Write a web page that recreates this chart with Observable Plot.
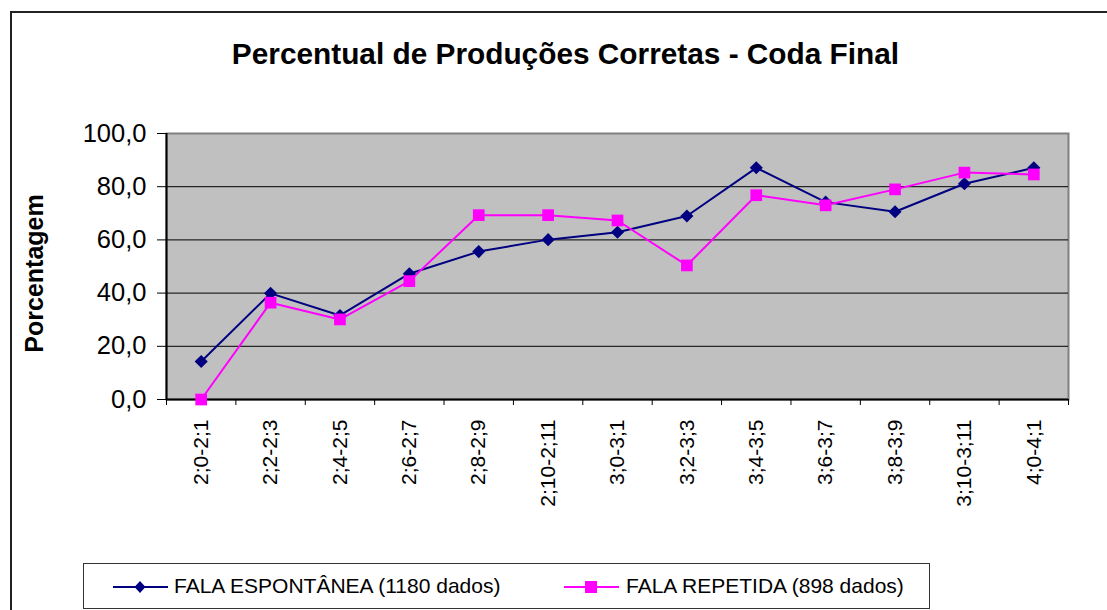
<!DOCTYPE html>
<html>
<head>
<meta charset="utf-8">
<script src="https://cdn.jsdelivr.net/npm/d3@7"></script>
<script src="https://cdn.jsdelivr.net/npm/@observablehq/plot@0.6"></script>
<style>
  html, body { margin: 0; padding: 0; background: #fff; overflow: hidden; }
  body { width: 1107px; height: 610px; position: relative; font-family: "Liberation Sans", Arial, sans-serif; }
  #frame { position: absolute; left: 10px; top: 11px; width: 1200px; height: 700px; border: 2px solid #222; box-sizing: border-box; }
  #chart { position: absolute; left: 0; top: 0; }
  #legend { position: absolute; left: 83px; top: 563px; width: 847px; height: 46px; border: 1.5px solid #333; box-sizing: border-box; background: #fff; }
  .lg-sw { position: absolute; }
  .lg-tx { position: absolute; font-size: 21px; line-height: 21px; color: #000; white-space: nowrap; }
</style>
</head>
<body>
<div id="frame"></div>
<div id="chart"></div>
<div id="legend"></div>
<script>
const categories = ["2;0-2;1","2;2-2;3","2;4-2;5","2;6-2;7","2;8-2;9","2;10-2;11","3;0-3;1","3;2-3;3","3;4-3;5","3;6-3;7","3;8-3;9","3;10-3;11","4;0-4;1"];
const espontanea = [14.3, 39.9, 31.6, 47.3, 55.6, 60.1, 62.9, 69.0, 87.1, 74.2, 70.6, 81.1, 87.1];
const repetida = [0.0, 36.4, 30.1, 44.5, 69.3, 69.3, 67.3, 50.4, 76.8, 73.0, 79.0, 85.3, 84.6];
const yTicks = [0, 20, 40, 60, 80, 100];
const seriesNames = ["FALA ESPONTÂNEA (1180 dados)", "FALA REPETIDA (898 dados)"];
const seriesColors = ["#000080", "#FF00FF"];
const titleText = "Percentual de Produções Corretas - Coda Final";
const yLabel = "Porcentagem";

const rowsE = categories.map((c, i) => ({pos: i + 0.5, cat: c, value: espontanea[i]}));
const rowsR = categories.map((c, i) => ({pos: i + 0.5, cat: c, value: repetida[i]}));

const font = '"Liberation Sans", Arial, sans-serif';

const chart = Plot.plot({
  width: 1107,
  height: 610,
  marginLeft: 166,
  marginRight: 39,
  marginTop: 133,
  marginBottom: 211,
  style: {fontFamily: font, background: "transparent", color: "#000"},
  x: {type: "linear", domain: [0, categories.length]},
  y: {domain: [0, 100]},
  marks: [
    Plot.frame({fill: "#C0C0C0", stroke: "#808080", strokeWidth: 2}),
    Plot.ruleY(yTicks.filter(d => d > 0 && d < 100), {stroke: "#000", strokeWidth: 1}),
    Plot.ruleX([0], {stroke: "#000", strokeWidth: 2}),
    Plot.ruleY([0], {stroke: "#000", strokeWidth: 2}),
    Plot.axisY({ticks: yTicks, tickFormat: d => d.toFixed(1).replace(".", ","), tickSize: 9, tickPadding: 11, fontSize: 25.5, label: null, stroke: "#000"}),
    Plot.axisX({ticks: d3.range(categories.length + 1), tickFormat: () => "", tickSize: 6, label: null, stroke: "#000"}),
    Plot.axisX({ticks: categories.map((_, i) => i + 0.5), tickFormat: d => categories[Math.floor(d)], tickRotate: -90, tickSize: 0, tickPadding: 20, fontSize: 21, label: null}),
    Plot.lineY(rowsE, {x: "pos", y: "value", stroke: seriesColors[0], strokeWidth: 2}),
    Plot.lineY(rowsR, {x: "pos", y: "value", stroke: seriesColors[1], strokeWidth: 2}),
    Plot.dot(rowsE, {x: "pos", y: "value", symbol: "diamond2", r: 5.9, fill: seriesColors[0], stroke: "none"}),
    Plot.dot(rowsR, {x: "pos", y: "value", symbol: "square", r: 6.6, fill: seriesColors[1], stroke: "none"}),
    Plot.text([titleText], {frameAnchor: "top", textAnchor: "middle", lineAnchor: "middle", dx: -52, dy: -79, fontSize: 29.8, fontWeight: "bold", fill: "#000"}),
    Plot.text([yLabel], {frameAnchor: "left", textAnchor: "middle", lineAnchor: "middle", rotate: -90, dx: -132, dy: 7, fontSize: 25, fontWeight: "bold", fill: "#000"})
  ]
});
document.getElementById("chart").appendChild(chart);

// Legend
const legend = document.getElementById("legend");
const items = [
  {swLeft: 112, txLeft: 173, symbol: "diamond"},
  {swLeft: 563, txLeft: 625, symbol: "square"}
];
items.forEach((it, k) => {
  const sw = document.createElementNS("http://www.w3.org/2000/svg", "svg");
  sw.setAttribute("width", 56);
  sw.setAttribute("height", 16);
  sw.setAttribute("class", "lg-sw");
  sw.style.left = (it.swLeft - 83) + "px";
  sw.style.top = (586 - 8 - 563) + "px";
  const color = seriesColors[k];
  let inner = `<line x1="0" y1="8" x2="55" y2="8" stroke="${color}" stroke-width="2"/>`;
  if (it.symbol === "diamond") {
    inner += `<path d="M27,2 L32.5,8 L27,14 L21.5,8 Z" fill="${color}"/>`;
  } else {
    inner += `<rect x="21" y="2" width="12" height="12" fill="${color}"/>`;
  }
  sw.innerHTML = inner;
  legend.appendChild(sw);
  const tx = document.createElement("div");
  tx.className = "lg-tx";
  tx.textContent = seriesNames[k];
  tx.style.left = (it.txLeft - 83) + "px";
  tx.style.top = (574 - 563) + "px";
  legend.appendChild(tx);
});
</script>
</body>
</html>
